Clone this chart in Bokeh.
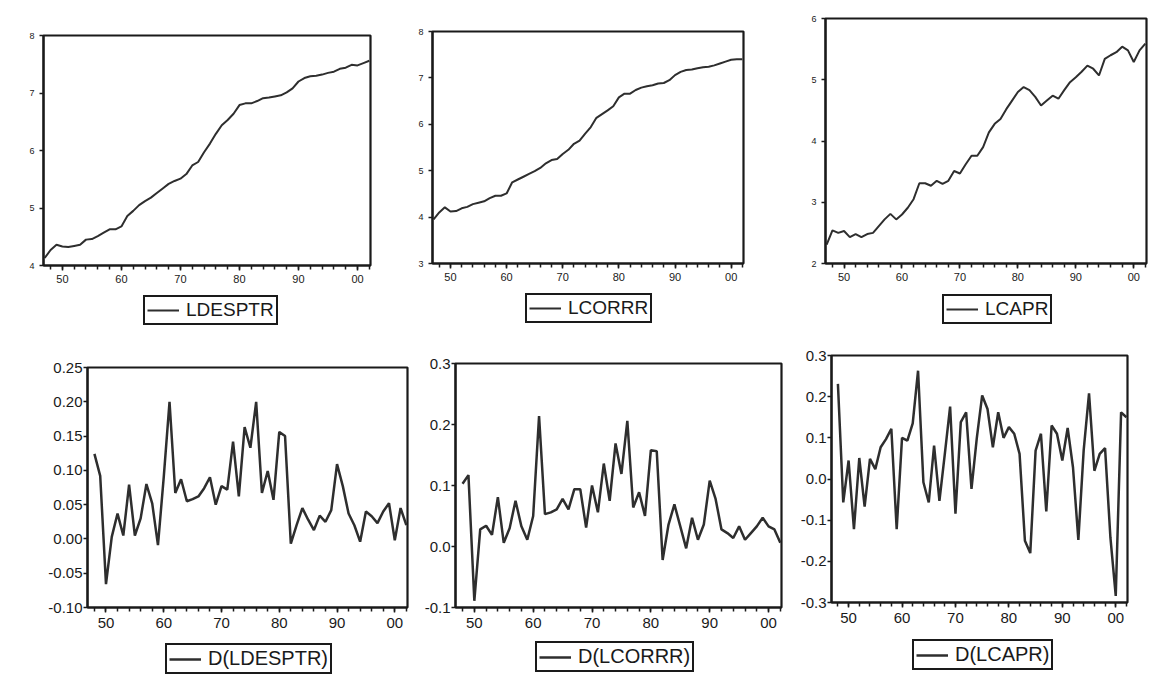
from bokeh.plotting import figure
from bokeh.models import (ColumnDataSource, FixedTicker, Range1d, Legend, LegendItem,
                          PrintfTickFormatter)
from bokeh.layouts import row, column
from bokeh.embed import file_html
from bokeh.resources import INLINE

# ---------------- data ----------------
years = list(range(1947, 2003))
dyears = list(range(1948, 2003))

ldesptr = [4.13, 4.27, 4.36, 4.33, 4.32, 4.34, 4.36, 4.45, 4.46, 4.51,
           4.57, 4.63, 4.63, 4.68, 4.86, 4.95, 5.05, 5.12, 5.18, 5.26,
           5.34, 5.42, 5.47, 5.51, 5.59, 5.74, 5.80, 5.97, 6.12, 6.29,
           6.44, 6.53, 6.64, 6.79, 6.82, 6.82, 6.86, 6.91, 6.92, 6.94,
           6.96, 7.01, 7.08, 7.20, 7.26, 7.29, 7.30, 7.32, 7.35, 7.37,
           7.42, 7.44, 7.49, 7.48, 7.52, 7.56]

lcorrr = [3.95, 4.10, 4.21, 4.12, 4.13, 4.19, 4.22, 4.28, 4.31, 4.34,
          4.41, 4.46, 4.46, 4.51, 4.75, 4.81, 4.87, 4.93, 4.99, 5.06,
          5.16, 5.23, 5.25, 5.36, 5.45, 5.58, 5.65, 5.80, 5.94, 6.14,
          6.22, 6.30, 6.39, 6.58, 6.66, 6.66, 6.74, 6.79, 6.82, 6.84,
          6.88, 6.89, 6.95, 7.06, 7.13, 7.17, 7.18, 7.21, 7.23, 7.24,
          7.27, 7.31, 7.35, 7.39, 7.40, 7.40]

lcapr = [2.31, 2.54, 2.50, 2.53, 2.43, 2.48, 2.43, 2.48, 2.50, 2.61,
         2.72, 2.81, 2.72, 2.80, 2.91, 3.05, 3.31, 3.31, 3.27, 3.35,
         3.30, 3.35, 3.51, 3.47, 3.62, 3.76, 3.76, 3.90, 4.14, 4.28,
         4.36, 4.52, 4.66, 4.80, 4.88, 4.83, 4.72, 4.58, 4.66, 4.74,
         4.69, 4.83, 4.96, 5.04, 5.13, 5.23, 5.18, 5.07, 5.34, 5.40,
         5.45, 5.54, 5.48, 5.29, 5.48, 5.59]

d_ldesptr = [0.124, 0.092, -0.066, 0.003, 0.037, 0.005, 0.079, 0.005, 0.030, 0.080,
             0.052, -0.009, 0.090, 0.200, 0.067, 0.087, 0.055, 0.058, 0.062, 0.074,
             0.090, 0.050, 0.077, 0.072, 0.142, 0.062, 0.163, 0.133, 0.200, 0.067,
             0.099, 0.057, 0.156, 0.150, -0.007, 0.020, 0.045, 0.028, 0.013, 0.034,
             0.025, 0.042, 0.109, 0.077, 0.037, 0.020, -0.004, 0.040, 0.033, 0.023,
             0.040, 0.052, -0.002, 0.045, 0.020]

d_lcorrr = [0.103, 0.117, -0.089, 0.028, 0.034, 0.019, 0.081, 0.006, 0.030, 0.075,
            0.033, 0.011, 0.050, 0.214, 0.053, 0.056, 0.061, 0.078, 0.061, 0.094,
            0.094, 0.031, 0.100, 0.056, 0.136, 0.075, 0.169, 0.119, 0.206, 0.064,
            0.089, 0.050, 0.158, 0.156, -0.022, 0.036, 0.069, 0.033, -0.003, 0.047,
            0.011, 0.036, 0.108, 0.078, 0.028, 0.022, 0.014, 0.033, 0.011, 0.022,
            0.033, 0.047, 0.033, 0.028, 0.006]

d_lcapr = [0.231, -0.057, 0.045, -0.122, 0.051, -0.067, 0.049, 0.024, 0.077, 0.097,
           0.122, -0.122, 0.100, 0.093, 0.135, 0.263, -0.008, -0.057, 0.081, -0.053,
           0.060, 0.176, -0.084, 0.138, 0.162, -0.024, 0.100, 0.203, 0.170, 0.077,
           0.162, 0.100, 0.126, 0.110, 0.061, -0.150, -0.180, 0.069, 0.110, -0.079,
           0.130, 0.110, 0.045, 0.124, 0.028, -0.148, 0.070, 0.208, 0.020, 0.061,
           0.075, -0.142, -0.284, 0.162, 0.150]

x_major = [1950, 1960, 1970, 1980, 1990, 2000]
x_labels = ["50", "60", "70", "80", "90", "00"]
x_minor = list(range(1948, 2003, 2))

FONT = "Liberation Sans"
INK = "#1a1a1a"
LINE = "#2e2e2e"


def panel(xs, ys, name, yr, yticks, yfmt, geom, small, leg_h, leg_xy):
    (w, h, bl, br, bt, bb) = geom
    p = figure(width=w, height=h, output_backend="svg", toolbar_location=None,
               x_range=Range1d(1946.8, 2002.2), y_range=Range1d(*yr),
               min_border_left=bl, min_border_right=br,
               min_border_top=bt, min_border_bottom=bb)
    p.background_fill_color = "white"
    p.border_fill_color = "white"
    p.outline_line_color = INK
    p.outline_line_width = 2.2
    p.xgrid.visible = False
    p.ygrid.visible = False

    lw = 2.0 if small else 2.5
    src = ColumnDataSource(dict(x=xs, y=ys))
    p.line("x", "y", source=src, line_color=LINE, line_width=lw)

    xa = p.xaxis[0]
    xa.ticker = FixedTicker(ticks=x_major, minor_ticks=x_minor)
    xa.major_label_overrides = {t: l for t, l in zip(x_major, x_labels)}
    ya = p.yaxis[0]
    ya.ticker = FixedTicker(ticks=yticks)
    if yfmt:
        ya.formatter = PrintfTickFormatter(format=yfmt)
    for ax in (xa, ya):
        ax.axis_line_color = INK
        ax.axis_line_width = 2
        ax.major_tick_line_color = INK
        ax.minor_tick_line_color = INK
        ax.major_tick_line_width = 1.5
        ax.minor_tick_line_width = 1.5
        ax.major_tick_in = 0
        ax.minor_tick_in = 0
        ax.major_label_text_font = FONT
        ax.major_label_text_color = INK
    xa.major_tick_out = 5
    xa.minor_tick_out = 4
    ya.major_tick_out = 4
    ya.minor_tick_out = 0
    if small:
        xa.major_label_text_font_size = "11px"
        ya.major_label_text_font_size = "9px"
        xa.major_label_standoff = 4
        ya.major_label_standoff = 5
    else:
        xa.major_label_text_font_size = "15px"
        ya.major_label_text_font_size = "15px"
        xa.major_label_standoff = 5
        ya.major_label_standoff = 1

    # legend strip below the plot (its own small figure, same side borders)
    q = figure(width=w, height=leg_h, output_backend="svg", toolbar_location=None,
               x_axis_location=None, y_axis_location=None,
               x_range=Range1d(0, 1), y_range=Range1d(0, 1),
               min_border_left=bl, min_border_right=br,
               min_border_top=0, min_border_bottom=0)
    q.outline_line_color = None
    q.xgrid.visible = False
    q.ygrid.visible = False
    q.background_fill_color = "white"
    q.border_fill_color = "white"
    sample = q.line(x=[-5, -4], y=[-5, -4], line_color=LINE, line_width=lw)
    leg = Legend(items=[LegendItem(label=name, renderers=[sample])],
                 location=leg_xy, orientation="horizontal", margin=0,
                 padding=2, spacing=0, glyph_width=32, glyph_height=20,
                 label_height=20, label_standoff=7,
                 label_text_font=FONT,
                 label_text_font_size="19px" if small else "20px",
                 label_text_color=INK,
                 border_line_color=INK, border_line_width=2, border_line_alpha=1,
                 background_fill_color="white", background_fill_alpha=1)
    q.add_layout(leg, "center")
    return column(p, q, spacing=0)


# geometry: width, height, border left, right, top, bottom
p1 = panel(years, ldesptr, "LDESPTR", (4, 8), [4, 5, 6, 7, 8], None,
           (390, 292, 43, 20, 35, 27), True, 43, (100, 10))
p2 = panel(years, lcorrr, "LCORRR", (3, 8), [3, 4, 5, 6, 7, 8], None,
           (373, 292, 42, 20, 31, 29), True, 43, (93, 12))
p3 = panel(years, lcapr, "LCAPR", (2, 6), [2, 3, 4, 5, 6], None,
           (385, 292, 62, 2, 18, 29), True, 43, (117, 11))

p4 = panel(dyears, d_ldesptr, "D(LDESPTR)", (-0.10, 0.25),
           [-0.10, -0.05, 0.0, 0.05, 0.10, 0.15, 0.20, 0.25], "%.2f",
           (415, 302, 87, 8, 32, 30), False, 39, (78, 2))
p5 = panel(dyears, d_lcorrr, "D(LCORRR)", (-0.1, 0.3),
           [-0.1, 0.0, 0.1, 0.2, 0.3], "%.1f",
           (374, 302, 40, 8, 28, 30), False, 39, (80, 4))
p6 = panel(dyears, d_lcapr, "D(LCAPR)", (-0.3, 0.3),
           [-0.3, -0.2, -0.1, 0.0, 0.1, 0.2, 0.3], "%.1f",
           (359, 302, 42, 21, 20, 35), False, 39, (81, 6))

layout = column(row(p1, p2, p3, spacing=0), row(p4, p5, p6, spacing=0), spacing=0)
open("out.html", "w").write(file_html(layout, INLINE))
